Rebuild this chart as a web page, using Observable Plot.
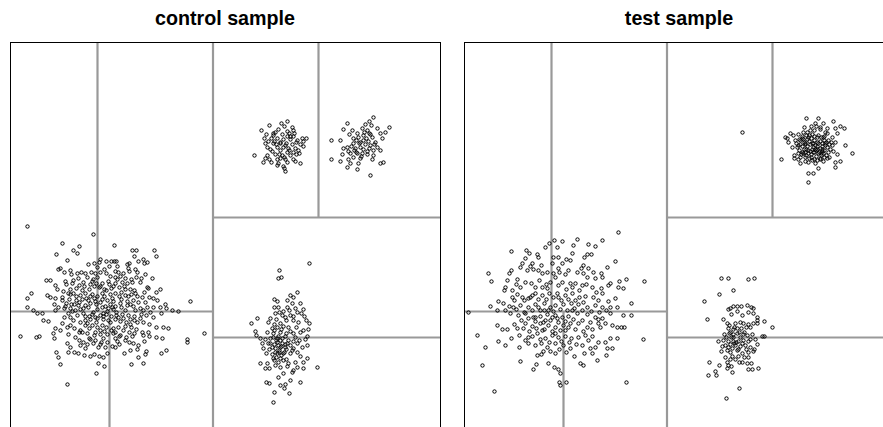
<!DOCTYPE html>
<html><head><meta charset="utf-8">
<script src="https://cdn.jsdelivr.net/npm/d3@7"></script>
<script src="https://cdn.jsdelivr.net/npm/@observablehq/plot@0.6"></script>
<style>
html,body{margin:0;padding:0;background:#fff;overflow:hidden;width:883px;height:427px;}
.title{position:absolute;top:7px;width:430px;text-align:center;font:bold 19.7px "Liberation Sans",Arial,sans-serif;color:#000;}
.panel{position:absolute;top:41px;width:432px;height:432px;}
.panel svg{max-width:none !important;}
</style></head><body>
<div class="title" style="left:10px">control sample</div>
<div class="title" style="left:464px">test sample</div>
<div id="p1" class="panel" style="left:9px"></div>
<div id="p2" class="panel" style="left:463px"></div>
<script>
// panel titles
const panelTitles = ["control sample", "test sample"];

// partition split lines (shared by both samples): x1, y1, x2, y2
const splitX1 = [20.25, 8.7, 0, 9.9, 20.25, 30.8, 20.25];
const splitY1 = [0, 16.1, 16.1, 0, 25.5, 25.5, 13.5];
const splitX2 = [20.25, 8.7, 20.25, 9.9, 43, 30.8, 43];
const splitY2 = [43, 43, 16.1, 16.1, 25.5, 43, 13.5];

// control sample: flat [x, y, x, y, ...]
const controlUpperA = [27.7,35.1,25.9,34.7,27.4,34.6,28.2,34.5,25.1,34.2,26.8,34.3,27.7,34.1,28.3,34.2,25.6,33.8,26.3,33.7,27.2,33.8,27.7,33.6,28.3,33.6,29.2,33.4,29.6,33.4,25.4,33.4,26.1,33.4,26.7,33.4,27.3,33.3,28.0,33.3,28.7,33.2,29.3,33.1,25.5,32.9,26.3,32.9,27.0,32.9,27.6,32.9,28.2,32.8,29.0,32.8,25.7,32.5,26.7,32.5,27.3,32.5,27.8,32.4,28.5,32.4,29.3,32.6,26.2,32.1,27.0,32.2,27.7,32.0,28.3,32.0,28.9,31.9,24.4,31.7,25.7,31.7,26.5,31.8,27.2,31.7,28.0,31.7,28.6,31.8,25.5,31.4,25.9,31.3,26.7,31.3,27.5,31.3,28.3,31.3,25.3,31.0,26.1,31.0,26.8,30.9,27.7,31.0,28.5,31.1,29.0,30.9,26.7,30.7,27.3,30.6,27.4,30.4,27.5,30.1,27.0,33.0,27.9,33.9,26.5,34.0,28.8,32.2,26.0,32.3,27.4,31.5,28.6,33.0,26.9,31.8,27.1,34.9,25.8,33.1,
26.4,33.1,27.5,32.7,28.0,33.6,26.6,32.8,27.9,32.2,27.0,31.4,26.3,33.9,28.4,33.9];
const controlUpperB = [36.3,35.5,35.9,35.1,33.7,34.9,35.5,34.8,36.1,34.7,37.9,34.5,33.3,34.3,34.2,34.2,35.2,34.4,35.7,34.2,36.7,34.4,37.5,34.0,33.9,33.8,34.7,33.9,35.3,33.7,35.9,33.9,37.0,33.9,32.1,33.2,33.0,33.2,34.3,33.4,34.8,33.5,35.6,33.4,36.2,33.5,37.2,33.4,33.7,32.5,34.3,32.9,34.9,32.9,35.5,32.8,36.0,32.7,36.7,32.5,34.5,32.4,35.3,32.3,36.3,32.2,37.0,32.2,33.2,31.8,34.0,31.9,34.7,31.9,35.7,31.8,36.3,31.7,32.1,31.3,33.0,31.1,33.8,31.3,34.3,31.5,35.0,31.4,36.2,31.3,37.0,30.9,37.3,31.0,34.0,30.9,34.8,30.9,33.7,30.5,34.7,30.3,36.0,29.7,33.3,32.4,35.2,31.9,35.0,33.0,35.8,33.1,34.6,32.0,35.9,32.4,34.1,32.6,35.4,34.0,36.5,33.0,35.1,31.6,
34.6,33.2,35.3,33.2,36.0,33.8,34.4,32.2,35.0,32.5,35.7,32.1,36.4,32.8,33.8,32.1];
const controlLowerA = [1.7,24.6,8.3,23.8,5.2,22.9,6.9,22.6,10.4,22.7,6.3,22.2,6.7,21.9,4.6,21.8,12.2,22.2,12.6,22.2,14.4,22.2,14.6,21.6,12.4,21.6,5.7,21.2,
9.0,21.3,8.9,21.0,8.4,20.9,9.6,21.1,10.1,21.1,10.4,21.1,10.6,21.1,7.8,20.8,11.7,20.8,11.9,20.9,12.8,21.1,13.3,21.3,13.7,21.0,13.4,20.9,10.7,20.6,9.9,20.6,9.4,20.3,5.0,20.4,4.8,20.3,8.7,20.5,12.5,20.3,12.7,20.0,11.8,20.4,
5.4,20.0,6.0,20.2,6.1,19.8,6.7,19.9,7.1,20.0,7.5,19.9,8.1,20.0,8.5,19.9,9.0,20.0,9.6,19.9,10.5,20.1,10.8,20.0,11.3,19.9,11.9,20.1,13.5,19.8,14.2,19.4,12.1,19.3,13.1,19.4,3.6,19.2,4.0,19.2,4.5,18.7,5.5,19.1,6.3,19.2,7.7,19.5,8.3,19.3,8.7,19.5,10.0,19.6,10.5,19.5,11.0,19.6,11.5,19.4,12.6,19.5,
5.6,18.8,6.2,18.9,6.9,18.7,7.3,19.0,8.0,18.8,8.6,18.9,9.2,18.9,9.8,19.1,10.5,18.9,11.2,19.0,11.7,18.9,12.2,19.0,13.0,19.0,13.7,18.5,13.8,18.4,12.4,18.2,15.0,18.3,14.6,18.0,10.9,18.5,10.1,18.4,9.4,18.3,8.9,18.5,7.9,18.3,7.2,18.2,6.6,18.4,6.0,18.3,5.3,18.1,4.7,18.3,2.1,17.9,3.7,17.7,4.0,17.5,4.5,17.4,5.2,17.5,1.7,17.4,5.8,17.9,
6.3,17.9,7.0,17.7,7.5,17.9,8.2,17.8,8.7,17.6,9.4,17.6,10.0,17.8,10.5,17.9,11.1,18.0,11.5,17.7,12.1,17.8,12.7,17.6,13.2,17.5,13.9,17.5,14.3,17.4,14.7,17.2,15.5,16.8,18.0,17.1,13.5,17.0,12.8,17.0,12.3,17.2,11.7,17.1,11.1,17.3,10.3,17.1,9.7,17.2,9.2,17.3,8.5,17.1,7.8,17.2,7.2,17.3,6.6,17.2,5.9,17.3,5.2,17.2,4.4,16.8,4.8,16.5,5.6,16.9,6.1,16.8,6.8,16.7,7.5,16.7,8.0,16.9,1.7,16.5,2.3,16.2,
9.2,16.5,9.8,16.4,10.5,16.6,11.1,16.5,11.7,16.7,12.3,16.6,13.0,16.4,13.7,16.5,14.3,16.5,15.0,16.5,15.6,16.4,16.8,16.1,16.2,16.2,8.7,16.3,9.7,16.1,10.3,16.3,5.4,16.4,6.0,16.4,6.5,16.2,7.3,16.4,2.7,15.9,3.2,15.9,4.5,16.2];
const controlLowerB = [5.4,15.5,6.0,15.5,6.7,15.7,7.5,15.6,8.2,15.8,8.5,15.5,9.0,15.7,9.6,15.8,10.1,15.6,10.6,15.7,11.2,15.8,11.8,15.7,12.4,15.6,13.1,15.8,13.6,15.7,14.3,15.5,15.1,15.9,3.3,15.2,3.8,15.1,7.5,15.2,8.0,15.3,8.7,15.4,9.3,15.3,9.8,15.2,10.5,15.3,11.3,15.4,12.0,15.3,12.7,15.0,13.3,15.0,13.9,14.8,14.6,14.5,
5.2,14.9,4.5,14.4,4.3,13.9,5.0,14.2,5.7,14.5,6.4,14.4,7.0,14.2,7.5,14.7,8.2,14.7,8.7,14.5,9.0,14.2,9.6,14.5,10.3,14.4,10.8,14.5,11.5,14.6,12.1,14.5,12.6,14.3,13.2,14.0,13.8,14.0,15.3,14.5,15.8,14.4,1.0,13.6,2.6,13.5,2.9,13.6,4.4,13.4,5.8,13.8,6.5,13.5,7.2,14.0,7.7,13.9,8.4,13.7,9.0,13.8,9.7,13.8,10.3,13.9,11.0,13.7,11.6,13.5,12.2,13.6,13.3,13.7,13.9,13.6,14.6,13.5,15.2,13.4,17.7,13.3,17.7,13.0,19.4,13.9,
5.7,12.9,6.0,12.5,6.9,13.2,7.3,13.0,7.9,13.4,8.5,13.2,9.1,13.0,9.7,13.0,10.5,13.4,10.7,13.1,11.5,13.2,11.9,13.0,12.3,12.9,12.8,12.7,13.4,13.1,7.0,12.7,7.7,12.8,8.3,12.9,8.8,12.5,9.5,12.5,10.2,12.6,10.5,12.5,4.6,12.0,4.8,11.5,5.0,10.8,5.8,12.0,6.4,12.0,6.8,11.9,7.4,11.7,8.0,11.6,8.4,11.8,8.9,11.6,9.3,11.5,9.7,11.9,11.4,11.9,12.0,12.2,12.7,12.3,13.6,12.1,15.1,11.9,15.6,12.2,13.5,11.8,12.8,11.5,13.3,10.9,12.1,10.8,8.8,10.9,9.4,10.6,8.6,9.9,5.7,8.8,
8.0,17.6,9.0,17.0,10.0,16.8,11.0,16.9,8.3,16.0,9.3,15.9,10.6,16.0,7.3,15.9,6.6,17.6,11.5,18.3,9.6,18.2,8.4,18.6,10.3,18.6,12.5,16.2,6.2,16.1,7.7,14.9,9.2,14.7,11.0,15.1,12.0,14.8,10.1,14.2];
const controlLowerCore = [6.8,19.4,7.4,18.6,8.2,19.1,9.0,18.6,9.9,18.8,10.7,19.3,11.4,18.6,12.0,18.3,6.0,17.8,6.9,17.0,7.6,17.4,8.4,17.4,9.2,17.9,10.2,17.4,10.9,17.6,11.8,17.6,12.5,17.9,13.4,18.0,5.5,16.6,6.4,16.8,7.0,16.3,7.8,16.5,8.6,16.8,9.5,16.6,10.2,16.5,11.5,16.2,12.0,16.8,13.3,16.2,14.0,16.0,5.8,15.9,6.3,15.2,7.0,15.0,7.9,15.6,8.6,15.0,9.3,15.6,10.0,15.0,10.8,15.5,11.6,15.0,12.4,15.2,13.0,15.4,6.0,14.7,6.9,14.0,7.9,14.4,8.5,14.0,9.4,14.1,10.5,14.0,11.3,14.2,12.4,13.9,8.0,13.3,9.3,13.4,10.9,13.6,11.9,14.0,7.5,12.4,9.0,12.8,10.9,12.8];
const controlLowerC = [29.9,20.9,26.9,20.2,26.8,19.4,27.1,19.5,28.7,18.0,28.0,17.7,28.3,17.5,26.4,17.3,26.7,17.1,27.7,17.2,28.2,16.9,29.0,16.9,26.4,16.5,26.8,16.5,27.7,16.5,28.5,16.4,29.3,16.3,27.3,16.1,27.9,16.2,28.7,16.0,29.1,15.9,26.5,15.9,27.2,15.7,28.3,15.6,29.4,15.6,24.7,15.4,24.1,14.9,26.0,15.4,25.8,15.0,26.4,14.8,27.0,14.9,27.6,15.2,28.3,15.2,28.8,15.0,29.6,15.2,29.9,14.9,26.2,14.4,26.7,14.5,27.3,14.6,27.8,14.5,28.6,14.5,29.3,14.2,29.8,14.3,24.5,14.1,25.7,14.0,26.3,13.9,27.0,14.0,27.6,13.9,28.3,13.9,29.0,14.0,29.7,13.6,24.6,13.7,25.0,13.4,25.5,13.3,26.0,13.4,26.6,13.2,27.2,13.4,27.8,13.2,28.3,13.1,28.9,13.2,29.5,13.3,25.2,12.9,25.8,12.9,26.4,12.8,26.8,12.7,27.5,12.8,28.0,12.7,28.7,12.9,29.7,12.7,25.3,12.4,25.9,12.3,26.5,12.4,27.0,12.5,27.6,12.3,28.3,12.4,29.2,12.5,25.6,11.9,26.2,11.8,26.7,11.9,27.3,11.9,28.0,11.9,28.7,12.0,29.0,11.6,29.7,11.4,25.0,10.9,25.7,10.9,26.4,11.2,26.8,11.0,27.3,11.2,27.8,10.9,28.5,11.0,29.3,11.0,30.7,10.5,25.5,10.4,25.9,10.4,26.5,10.7,27.0,10.5,27.7,10.6,28.3,10.2,28.7,10.5,29.3,10.4,26.8,9.5,27.3,9.9,28.2,10.0,25.6,9.0,25.9,8.9,27.0,8.7,27.5,8.8,28.0,9.2,29.0,9.0,26.4,8.0,27.4,8.4,27.9,7.9,26.3,7.0,26.7,13.0,26.9,12.2,26.6,11.5,27.2,12.9,26.8,13.6,27.1,12.6,27.4,12.0,26.7,13.4,27.0,11.4,26.5,12.0,
26.4,14.2,27.1,14.3,27.5,13.6,28.0,14.1,26.3,13.5,27.0,13.2,27.7,12.9,26.2,12.5,26.9,12.0,27.5,12.5,28.2,12.2,26.3,11.4,27.1,11.7,27.6,11.3,26.0,12.9,28.5,13.5,26.6,15.3,27.5,15.5,28.0,15.7,26.9,16.0];

// test sample: flat [x, y, x, y, ...]
const testUpper = [27.8,34.0,
34.2,35.4,35.4,35.4,36.9,35.1,37.6,34.6,38.0,34.4,35.1,34.9,35.9,34.9,35.6,34.5,34.0,34.5,36.3,34.4,37.1,34.4,32.6,33.9,32.1,33.5,32.9,33.7,33.4,33.8,32.3,33.4,37.3,33.9,36.8,33.5,34.3,34.0,35.0,34.2,36.1,34.0,32.4,33.0,33.1,33.2,33.8,33.4,34.4,33.5,35.3,33.5,35.9,33.5,36.4,33.2,37.1,33.0,38.1,32.7,32.8,32.5,33.4,32.7,34.1,32.9,34.8,32.9,35.4,32.9,36.1,32.9,36.8,32.7,38.8,31.9,31.7,31.3,33.0,31.7,33.0,31.4,33.8,32.0,34.4,32.2,35.1,32.3,35.8,32.1,36.4,32.0,37.3,31.8,33.4,31.3,34.1,31.1,34.8,31.2,35.6,31.3,36.3,31.4,37.1,31.0,37.6,31.1,37.1,30.5,35.4,30.4,34.4,29.9,34.9,29.9,34.4,29.0,33.6,30.9,35.1,30.9,
33.6,33.2,34.0,33.0,34.5,33.1,35.0,33.2,35.6,33.1,36.0,33.2,33.8,32.6,34.3,32.6,34.9,32.5,35.3,32.6,35.8,32.6,36.3,32.5,33.5,32.2,34.0,32.3,34.6,32.1,35.0,32.0,35.5,32.0,36.0,32.2,36.6,32.3,33.7,31.8,34.2,31.7,34.7,31.8,35.2,31.6,35.7,31.7,36.2,31.7,34.5,31.4,35.0,31.3,35.9,31.1,34.2,33.7,34.8,33.8,35.4,33.7,36.0,33.6,33.9,34.0,35.6,34.3,34.6,34.2,33.2,32.9,36.7,33.0,36.9,32.1,33.4,31.9,34.9,32.9,35.3,32.3,34.1,32.0,35.6,31.4,34.4,31.0,36.5,31.5,33.8,33.6,36.3,33.9,35.2,34.6,34.7,34.6,33.5,33.3,
33.9,33.3,34.3,33.3,34.7,33.4,35.3,33.0,35.8,32.9,36.2,33.0,33.6,32.8,34.1,32.8,34.6,32.8,35.1,32.7,35.6,32.4,36.1,32.7,34.2,32.3,34.8,32.3,35.2,32.2,35.8,32.3,33.9,31.9,34.4,31.9,34.9,32.0,35.4,31.9,35.9,31.9,34.1,31.5,34.7,31.5,35.3,31.2,35.7,31.9,36.0,31.5,33.3,32.5,36.5,32.8,34.5,33.7,35.0,33.6,35.7,33.5,33.6,31.5];
const testLowerA = [15.4,24.0,11.3,23.3,9.0,23.2,9.8,23.1,8.5,22.9,8.1,22.5,9.3,22.5,10.9,22.7,12.4,22.8,13.1,22.6,13.8,23.2,4.7,22.1,6.2,22.2,6.5,21.9,7.3,21.8,6.1,21.4,7.4,21.5,8.9,21.5,9.4,21.5,10.8,21.9,12.0,21.5,12.3,21.8,12.7,21.8,10.2,21.3,10.6,21.2,5.8,20.9,5.6,20.5,6.8,20.9,7.7,20.7,8.8,20.9,9.8,20.9,15.1,21.1,14.3,20.5,11.9,20.7,11.7,20.4,12.4,20.4,12.9,20.0,13.7,19.9,2.4,19.9,2.7,19.1,4.7,20.2,4.5,19.9,4.3,19.2,5.3,19.3,6.3,20.2,6.9,20.3,7.8,19.9,8.3,20.0,9.4,20.4,9.5,20.0,10.4,20.2,11.3,20.0,12.3,19.5,13.1,19.4,13.8,19.5,14.6,18.9,15.5,19.1,16.2,19.3,18.0,19.1,
4.1,18.5,4.0,18.2,4.8,18.2,5.6,18.5,6.1,19.0,7.1,18.5,7.8,18.5,8.6,19.0,9.1,19.5,9.8,19.0,10.6,18.9,11.1,18.9,11.8,18.7,12.8,18.5,13.7,18.4,14.4,18.7,15.4,18.5,15.9,18.4,3.4,17.1,2.6,16.6,3.9,16.9,4.8,17.5,5.0,17.2,5.8,17.5,6.4,17.4,7.1,17.9,7.8,17.7,8.5,17.9,9.3,17.9,10.1,17.7,10.8,17.9,11.5,17.5,12.1,17.6,12.9,17.5,13.8,17.9,15.1,17.4,16.7,16.9,
0.4,16.0,3.3,16.2,4.1,16.2,4.9,16.5,5.6,16.7,6.4,16.5,7.1,16.8,8.0,16.9,8.6,16.5,9.1,16.7,9.9,16.8,10.7,16.9,11.4,16.8,12.3,16.5,13.1,16.7,13.8,16.5,14.6,16.5,15.3,16.5];
const testLowerB = [4.6,15.9,5.4,15.7,6.1,15.9,6.9,15.5,7.6,15.6,8.3,15.8,9.1,15.7,9.8,15.5,10.4,15.6,11.3,15.9,12.3,15.8,13.1,15.5,13.8,15.4,14.6,15.9,15.9,15.7,16.7,15.7,3.3,14.7,3.8,14.3,4.3,14.3,5.3,14.4,6.1,14.9,6.8,14.6,7.6,14.9,8.4,14.7,9.1,14.5,9.9,14.7,10.6,14.9,11.4,14.9,12.3,14.5,13.4,14.9,14.1,14.9,14.8,14.7,15.3,14.5,15.7,14.5,16.0,14.5,
1.3,13.7,2.1,12.5,3.4,13.1,4.1,12.7,4.7,13.4,5.5,12.5,6.1,13.2,6.8,13.6,7.3,13.9,8.1,13.4,8.8,13.7,9.4,13.5,10.1,13.6,10.7,13.4,11.4,13.5,12.1,13.7,12.8,13.6,13.4,13.0,14.1,13.0,14.6,13.4,15.3,13.4,17.9,13.3,6.4,12.9,7.1,12.7,7.7,12.9,8.3,12.5,9.1,12.9,9.9,12.7,10.6,12.4,11.8,12.7,12.6,12.4,13.1,12.5,14.3,12.4,14.8,12.4,7.3,11.7,7.7,11.8,8.6,12.1,9.1,11.9,10.2,12.0,12.0,11.9,12.8,11.9,14.2,11.7,1.8,10.7,5.6,11.1,7.2,10.8,8.4,10.9,9.4,10.3,9.6,9.9,11.6,10.9,11.9,10.7,13.3,11.2,6.9,10.3,9.0,10.5,9.5,9.0,10.2,9.0,9.6,8.7,16.2,9.0,3.0,8.1,
7.6,16.2,8.1,15.2,8.8,15.5,9.4,15.0,7.8,14.2,10.1,14.2,7.1,15.5,8.4,16.2,9.1,13.9,10.8,16.2,6.6,17.5,9.4,17.5,10.8,18.5,8.3,18.4];
const testLowerCore = [6.6,20.6,7.4,20.2,8.9,19.9,10.1,19.8,11.9,19.9,5.2,18.8,6.7,18.9,7.5,19.2,8.2,18.8,9.4,18.7,10.2,18.3,11.5,18.2,12.2,18.8,13.2,18.0,5.3,17.8,6.0,17.2,6.8,17.7,7.4,17.3,8.2,17.3,8.9,17.5,9.7,17.2,10.4,17.3,11.1,17.2,11.9,17.0,13.4,17.2,14.4,17.1,4.5,16.6,5.2,16.3,6.0,16.0,6.8,16.2,7.4,16.5,8.0,16.2,8.9,16.1,9.6,16.3,10.3,16.2,11.0,16.4,11.8,16.2,12.7,16.1,13.5,16.0,14.2,16.2,5.7,15.2,6.4,15.4,7.1,15.1,7.9,15.0,8.6,15.2,9.3,15.4,10.1,15.1,10.9,15.3,11.8,15.2,12.6,15.0,13.4,15.3,5.0,14.8,5.9,14.4,6.5,14.1,7.2,14.4,8.0,14.3,8.8,14.1,9.6,14.2,10.4,14.5,11.1,14.3,11.9,14.1,12.8,14.3,13.6,14.5,5.5,13.7,6.4,13.5,7.6,13.3,8.5,13.0,9.7,13.1,10.5,13.0,11.2,12.8,12.4,13.2,7.9,12.1,9.5,12.3,11.0,11.6];
const testLowerC = [25.7,19.4,26.4,19.4,28.4,19.3,29.0,19.4,26.9,18.2,25.5,17.8,24.0,17.1,26.4,16.3,26.9,16.6,27.3,16.6,27.7,16.6,28.3,16.7,28.7,16.5,28.9,16.4,26.6,16.4,27.3,16.1,27.8,15.7,28.4,16.0,28.9,15.9,26.7,15.8,29.3,15.5,29.3,15.2,30.0,15.1,30.8,14.5,24.3,15.3,25.9,15.3,26.3,14.9,26.5,14.7,27.1,14.9,27.6,15.0,27.9,14.9,28.4,14.8,28.9,14.9,29.3,14.9,26.4,14.4,26.9,14.3,27.3,14.4,27.7,14.4,28.2,14.5,28.6,14.5,26.0,13.8,26.5,13.9,26.9,13.8,27.3,13.9,27.9,13.8,28.3,13.7,28.8,13.8,29.8,13.6,30.0,13.6,25.4,13.1,25.9,13.2,26.4,13.1,26.9,13.1,27.4,13.1,27.9,13.2,28.4,13.1,29.1,13.3,26.1,12.7,26.6,12.8,27.1,12.7,27.6,12.6,28.1,12.7,28.6,12.5,29.3,12.8,25.7,12.1,26.3,12.2,26.6,12.0,27.3,12.2,27.8,11.9,28.4,12.0,28.9,12.1,26.1,11.5,26.8,11.6,27.4,11.6,28.4,11.5,29.0,12.3,26.3,11.0,27.5,11.0,27.8,11.0,28.3,10.9,28.7,10.9,24.5,11.0,25.5,10.7,26.4,10.7,26.7,10.6,26.3,10.4,26.8,10.0,28.4,10.3,28.8,10.3,29.4,10.4,25.1,10.1,24.4,9.7,25.2,9.7,27.5,8.4,26.2,7.4,26.9,13.5,27.6,13.5,27.2,13.0,26.7,13.5,
26.6,14.0,27.0,14.5,27.5,14.0,28.0,14.0,26.2,13.5,27.0,12.9,27.8,12.9,26.8,12.4,27.4,12.3,28.2,12.3,26.4,12.5,27.1,11.3,28.0,11.5,26.6,11.3,28.6,13.3,25.8,12.6];

function toPoints(...arrays) {
  const out = [];
  for (const a of arrays) for (let i = 0; i < a.length; i += 2) out.push({x: a[i], y: a[i + 1]});
  return out;
}
const splits = splitX1.map((d, i) => ({x1: d, y1: splitY1[i], x2: splitX2[i], y2: splitY2[i]}));

function panel(points) {
  return Plot.plot({
    width: 432, height: 432,
    marginTop: 1, marginRight: 1, marginBottom: 1, marginLeft: 1,
    style: {maxWidth: "none"},
    x: {domain: [0, 43], axis: null},
    y: {domain: [0, 43], axis: null},
    marks: [
      Plot.link(splits, {x1: "x1", y1: "y1", x2: "x2", y2: "y2", stroke: "#999999", strokeWidth: 2.2}),
      Plot.dot(points, {x: "x", y: "y", r: 1.7, stroke: "#000", strokeWidth: 1, fill: "none"}),
      Plot.frame({stroke: "#000", strokeWidth: 1})
    ]
  });
}
document.getElementById("p1").appendChild(panel(toPoints(controlUpperA, controlUpperB, controlLowerA, controlLowerB, controlLowerCore, controlLowerC)));
document.getElementById("p2").appendChild(panel(toPoints(testUpper, testLowerA, testLowerB, testLowerCore, testLowerC)));
</script>
</body></html>
